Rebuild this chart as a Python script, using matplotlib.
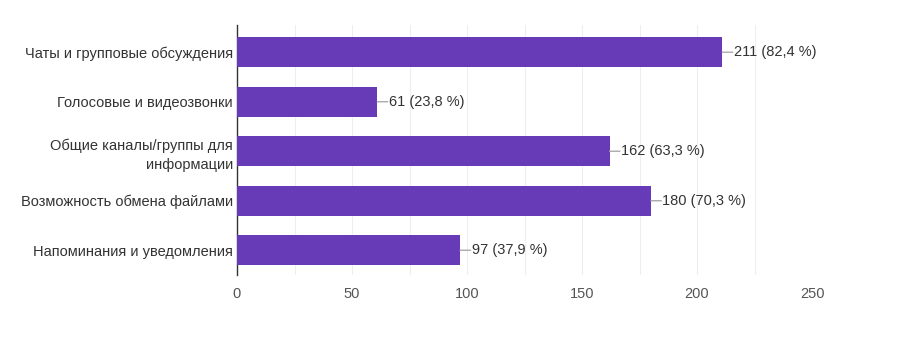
import matplotlib.pyplot as plt
import numpy as np

categories = [
    "Чаты и групповые обсуждения",
    "Голосовые и видеозвонки",
    "Общие каналы/группы для\nинформации",
    "Возможность обмена файлами",
    "Напоминания и уведомления",
]
counts = [211, 61, 162, 180, 97]
percents = ["82,4", "23,8", "63,3", "70,3", "37,9"]
x_ticks = [0, 50, 100, 150, 200, 250]

BAR_COLOR = "#673ab7"
TEXT_COLOR = "#333333"

plt.rcParams["font.family"] = ["Liberation Sans", "DejaVu Sans"]

fig = plt.figure(figsize=(9.08, 3.44), dpi=100)
ax = fig.add_axes([237 / 908, 1 - 275 / 344, 575 / 908, 250 / 344])

y = np.arange(len(categories))
ax.barh(y, counts, height=0.6, color=BAR_COLOR, zorder=3)

for yi, c, p in zip(y, counts, percents):
    ax.annotate("", xy=(c, yi), xytext=(c + 4.5, yi),
                arrowprops=dict(arrowstyle="-", color="#aaaaaa", lw=1,
                                shrinkA=0, shrinkB=0), zorder=4)
    ax.text(c + 5, yi, f"{c} ({p} %)", va="center", ha="left",
            fontsize=10.5, color=TEXT_COLOR)

ax.set_xlim(0, 250)
ax.set_ylim(4.5, -0.55)
ax.set_xticks(x_ticks)
ax.set_xticks(np.arange(0, 251, 25), minor=True)
ax.set_yticks(y)
ax.set_yticklabels(categories, fontsize=10.5, color=TEXT_COLOR,
                   linespacing=1.5)
ax.tick_params(axis="y", length=0, pad=3)
ax.tick_params(axis="x", which="both", length=0, pad=9, labelsize=10.5,
               labelcolor="#555555")
ax.grid(axis="x", which="both", color="#eeeeee", lw=0.8, zorder=0)

for side in ["top", "right", "bottom"]:
    ax.spines[side].set_visible(False)
ax.spines["left"].set_color("#333333")
ax.spines["left"].set_linewidth(1)

for lbl in ax.get_yticklabels():
    lbl.set_multialignment("right")

fig.savefig("out.png", dpi=100)
